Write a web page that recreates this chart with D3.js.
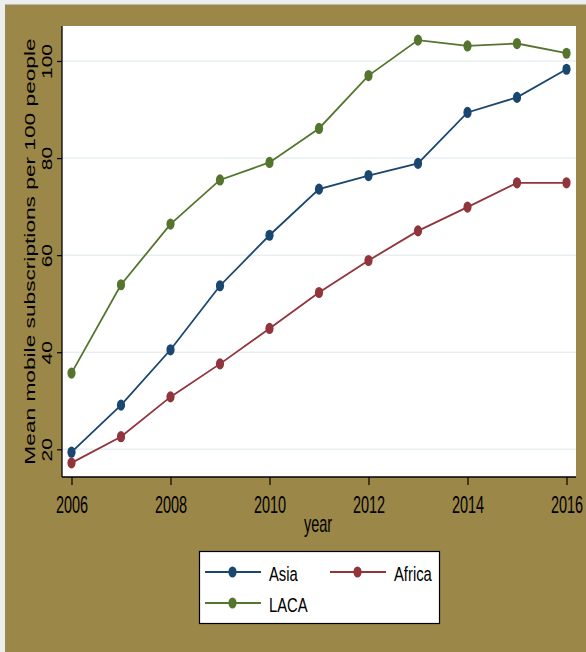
<!DOCTYPE html>
<html>
<head>
<meta charset="utf-8">
<script src="https://cdn.jsdelivr.net/npm/d3@7"></script>
<style>
  html, body { margin: 0; padding: 0; background: #eceeed; }
  svg { display: block; }
  text { font-family: "Liberation Sans", Arial, Helvetica, sans-serif; fill: #000; }
</style>
</head>
<body>
<svg id="chart" width="586" height="652"></svg>
<script>
// Mean mobile subscriptions per 100 people, by region and year
const years = [2006, 2007, 2008, 2009, 2010, 2011, 2012, 2013, 2014, 2015, 2016];
const asia   = [19.4, 29.1, 40.5, 53.7, 64.1, 73.6, 76.4, 78.9, 89.4, 92.5, 98.3];
const africa = [17.2, 22.6, 30.8, 37.6, 44.9, 52.3, 58.9, 65.0, 69.9, 74.9, 74.9];
const laca   = [35.7, 53.9, 66.4, 75.5, 79.1, 86.1, 97.0, 104.3, 103.1, 103.6, 101.6];
const seriesNames = ["Asia", "Africa", "LACA"];
const xTicks = [2006, 2008, 2010, 2012, 2014, 2016];
const yTicks = [20, 40, 60, 80, 100];
const yTitle = "Mean mobile subscriptions per 100 people";
const xTitle = "year";

const colors = { Asia: "#1a476f", Africa: "#90353b", LACA: "#55752f" };
const series = [
  { name: seriesNames[0], values: asia },
  { name: seriesNames[1], values: africa },
  { name: seriesNames[2], values: laca }
];

const svg = d3.select("#chart");
const W = 586, H = 652;
const plot = { left: 62, right: 576, top: 26, bottom: 477 };

// outer frame
svg.append("rect").attr("x", 0).attr("y", 0).attr("width", W).attr("height", H).attr("fill", "#eceeed");
svg.append("rect").attr("x", 5).attr("y", 4).attr("width", W - 5).attr("height", H - 4).attr("fill", "#9b8748");
svg.append("line").attr("x1", 5).attr("x2", W).attr("y1", 4.5).attr("y2", 4.5)
  .attr("stroke", "#b9b9b0").attr("stroke-width", 1);

// plot region
svg.append("rect")
  .attr("x", plot.left).attr("y", plot.top)
  .attr("width", plot.right - plot.left).attr("height", plot.bottom - plot.top)
  .attr("fill", "#ffffff");

const x = d3.scaleLinear().domain([2006, 2016]).range([71.5, 566.5]);
const y = d3.scaleLinear().domain([20, 100]).range([449.3, 61]);

// gridlines
svg.append("g").selectAll("line").data(yTicks).join("line")
  .attr("x1", plot.left).attr("x2", plot.right)
  .attr("y1", d => y(d)).attr("y2", d => y(d))
  .attr("stroke", "#e8eff2").attr("stroke-width", 1.5);

// y axis
const yAxis = svg.append("g")
  .attr("transform", `translate(${plot.left},0)`)
  .call(d3.axisLeft(y).tickValues(yTicks).tickSize(5).tickSizeOuter(0));
yAxis.select(".domain").attr("d", `M0,${plot.top}V${plot.bottom}`).attr("stroke", "#000").attr("stroke-width", 1.3);
yAxis.selectAll(".tick line").attr("stroke", "#000").attr("stroke-width", 1.2);
yAxis.selectAll(".tick text").remove();
yAxis.selectAll(".tick").append("text")
  .attr("text-anchor", "middle")
  .attr("font-size", 21)
  .attr("transform", "translate(-10.3,0) scale(0.66,1) rotate(-90)")
  .text(d => d);

// x axis
const xAxis = svg.append("g")
  .attr("transform", `translate(0,${plot.bottom})`)
  .call(d3.axisBottom(x).tickValues(xTicks).tickFormat(d3.format("d")).tickSize(8).tickSizeOuter(0));
xAxis.select(".domain").attr("d", `M${plot.left},0H${plot.right}`).attr("stroke", "#000").attr("stroke-width", 1.3);
xAxis.selectAll(".tick line").attr("stroke", "#000").attr("stroke-width", 1.2);
xAxis.selectAll(".tick text")
  .attr("y", 0).attr("dy", null)
  .attr("font-size", 23)
  .attr("font-family", "Liberation Sans, Arial, sans-serif")
  .attr("fill", "#000")
  .attr("transform", "translate(0,35.5) scale(0.63,1)");

// axis titles
svg.append("text")
  .attr("text-anchor", "middle")
  .attr("font-size", 22.7)
  .attr("transform", "translate(35,251.5) scale(0.64,1) rotate(-90)")
  .text(yTitle);
svg.append("text")
  .attr("text-anchor", "middle")
  .attr("font-size", 23)
  .attr("transform", `translate(${(plot.left + plot.right) / 2 - 1},531.5) scale(0.63,1)`)
  .text(xTitle);

// series lines and markers
const line = d3.line().x((d, i) => x(years[i])).y(d => y(d));
series.forEach(s => {
  const g = svg.append("g");
  g.append("path")
    .attr("d", line(s.values))
    .attr("fill", "none")
    .attr("stroke", colors[s.name])
    .attr("stroke-width", 1.8);
  g.selectAll("ellipse").data(s.values).join("ellipse")
    .attr("cx", (d, i) => x(years[i]))
    .attr("cy", d => y(d))
    .attr("rx", 4.1).attr("ry", 5.6)
    .attr("fill", colors[s.name]);
});

// legend
const legend = svg.append("g");
legend.append("rect")
  .attr("x", 199.5).attr("y", 551.5).attr("width", 240).attr("height", 72)
  .attr("fill", "#ffffff").attr("stroke", "#000").attr("stroke-width", 1.2);
const legendPos = [
  { name: "Asia",   x0: 205, y0: 572 },
  { name: "Africa", x0: 330, y0: 572 },
  { name: "LACA",   x0: 205, y0: 603 }
];
legendPos.forEach(p => {
  legend.append("line")
    .attr("x1", p.x0).attr("x2", p.x0 + 56)
    .attr("y1", p.y0).attr("y2", p.y0)
    .attr("stroke", colors[p.name]).attr("stroke-width", 1.8);
  legend.append("ellipse")
    .attr("cx", p.x0 + 27.5).attr("cy", p.y0)
    .attr("rx", 4.1).attr("ry", 5.6)
    .attr("fill", colors[p.name]);
  legend.append("text")
    .attr("font-size", 19.5)
    .attr("transform", `translate(${p.x0 + 64},${p.y0 + 8.7}) scale(0.76,1)`)
    .text(p.name);
});
</script>
</body>
</html>
